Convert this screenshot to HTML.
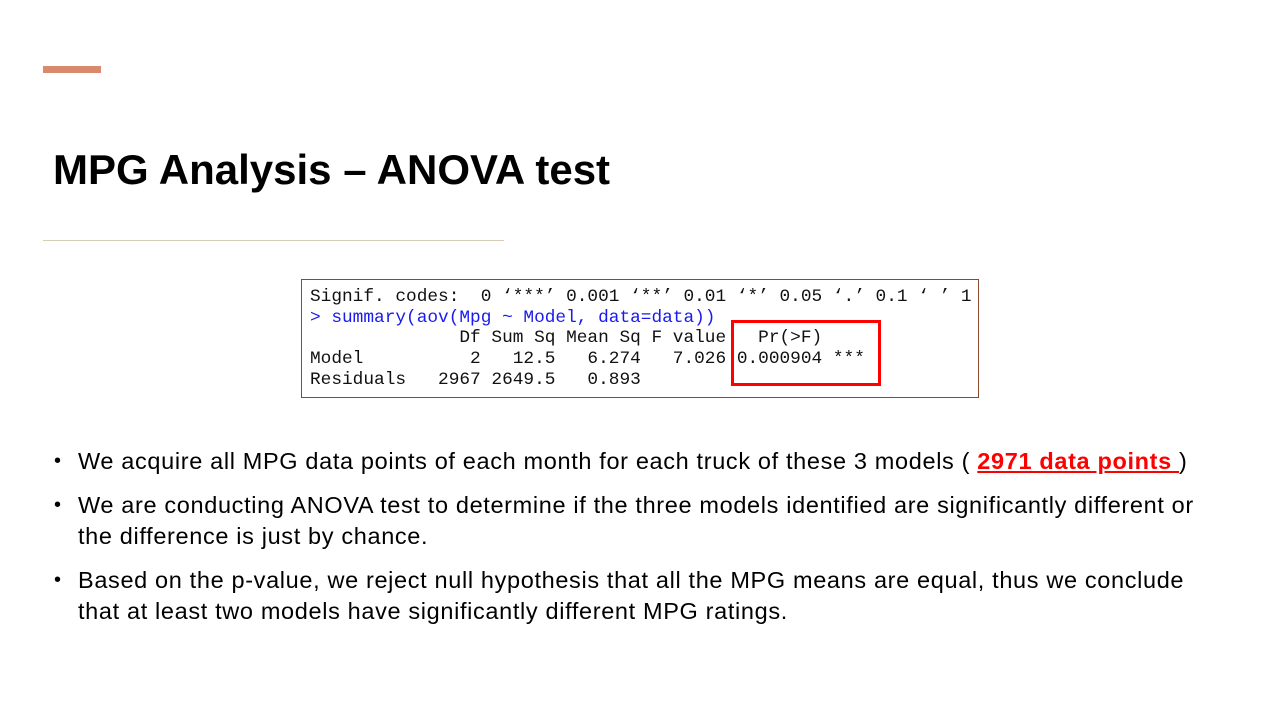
<!DOCTYPE html>
<html><head><meta charset="utf-8"><style>
body{margin:0;width:1280px;height:720px;background:#fff;position:relative;overflow:hidden;font-family:"Liberation Sans",sans-serif;}
.abs{position:absolute;}
pre{margin:0;font-family:"Liberation Mono",monospace;font-size:17.8px;line-height:20.7px;color:#111;}
ul{margin:0;padding:0;list-style:none;}
li{position:relative;padding-left:24px;font-size:23.5px;letter-spacing:0.65px;line-height:31px;color:#000;margin-bottom:13px;white-space:nowrap;}
li:before{content:"•";position:absolute;left:0;top:0;font-size:20px;}
</style></head><body>
<div class="abs" style="left:43px;top:66px;width:58px;height:7px;background:#d9896e"></div>
<div class="abs" style="left:53px;top:146px;font-size:42px;font-weight:bold;color:#000;letter-spacing:0px">MPG Analysis – ANOVA test</div>
<div class="abs" style="left:43px;top:240px;width:461px;height:1px;background:#d8cdb5"></div>
<div class="abs" style="left:301px;top:279px;width:676px;height:117px;border:1px solid #8b4a2b;">
<pre style="position:absolute;left:8px;top:7px;">Signif. codes:  0 ‘***’ 0.001 ‘**’ 0.01 ‘*’ 0.05 ‘.’ 0.1 ‘ ’ 1
<span style="color:#1a1aee">&gt; summary(aov(Mpg ~ Model, data=data))</span>
              Df Sum Sq Mean Sq F value   Pr(&gt;F)
Model          2   12.5   6.274   7.026 0.000904 ***
Residuals   2967 2649.5   0.893</pre>
<div class="abs" style="left:429px;top:40px;width:150px;height:66px;border:3px solid #f00;box-sizing:border-box"></div>
</div>
<ul class="abs" style="left:54px;top:446px;width:1200px;">
<li>We acquire all MPG data points of each month for each truck of these 3 models ( <span style="color:#f00;font-weight:bold;text-decoration:underline">2971 data points </span>)</li>
<li>We are conducting ANOVA test to determine if the three models identified are significantly different or<br>the difference is just by chance.</li>
<li>Based on the p-value, we reject null hypothesis that all the MPG means are equal, thus we conclude<br>that at least two models have significantly different MPG ratings.</li>
</ul>
</body></html>
